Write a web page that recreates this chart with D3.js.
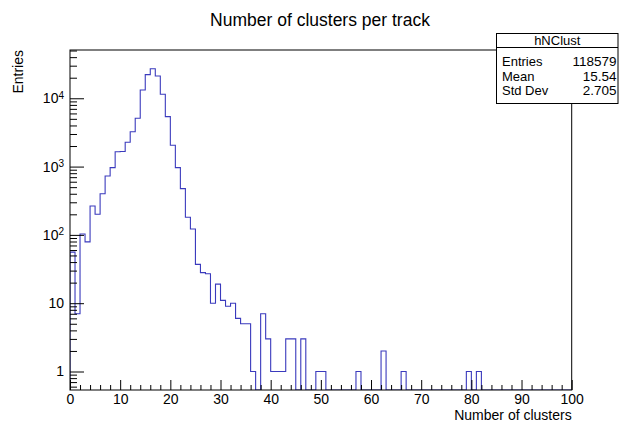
<!DOCTYPE html>
<html><head><meta charset="utf-8">
<script src="https://cdn.jsdelivr.net/npm/d3@7"></script>
<style>body{margin:0;background:#fff} svg{display:block} text{font-family:"Liberation Sans",Arial,Helvetica,sans-serif;fill:#000}</style>
</head><body><svg id="c" width="619" height="424"></svg>
<script>
const title = "Number of clusters per track";
const xTitle = "Number of clusters";
const yTitle = "Entries";
const xRange = [0, 100];
const nBins = 100;
const counts = [
  56, 7, 103, 79, 265, 200, 401, 728, 964, 1650,
  1660, 2270, 3240, 5100, 13200, 22200, 27100, 21200, 11450, 5380,
  2050, 964, 475, 181, 122, 37, 28, 27, 10, 19,
  11, 9, 10, 6, 5, 5, 1, 0, 7, 3,
  1, 1, 1, 3, 3, 0, 3, 0, 0, 1,
  1, 0, 0, 0, 0, 0, 0, 1, 0, 0,
  0, 0, 2, 0, 0, 0, 1, 0, 0, 0,
  0, 0, 0, 0, 0, 0, 0, 0, 0, 1,
  0, 1, 0, 0, 0, 0, 0, 0, 0, 0,
  0, 0, 0, 0, 0, 0, 0, 0, 0, 0
];
const xTickValues = [0, 10, 20, 30, 40, 50, 60, 70, 80, 90, 100];
const yTickValues = [1, 10, 100, 1000, 10000];
const statsName = "hNClust";
const statsLabels = ["Entries", "Mean", "Std Dev"];
const statsValues = ["118579", "15.54", "2.705"];

const svg = d3.select("#c");
const L = 70, R = 571.7, T = 50, B = 390;
const x = d3.scaleLinear().domain(xRange).range([L, R]);
const y = d3.scaleLog().domain([0.536, 50900]).range([B, T]);
const lineColor = "#3a3abd";

svg.append("rect").attr("width", 619).attr("height", 424).attr("fill", "#fff");

// title
svg.append("text").attr("x", 320).attr("y", 26).attr("text-anchor", "middle")
  .attr("font-size", 17.5).text(title);

// clip
svg.append("clipPath").attr("id", "clip").append("rect")
  .attr("x", L).attr("y", T).attr("width", R - L).attr("height", B - T);

// histogram
const bw = (xRange[1] - xRange[0]) / nBins;
const pts = [[x(xRange[0]), B]];
counts.forEach((c, i) => {
  const yy = c > 0 ? y(c) : B;
  pts.push([x(xRange[0] + i * bw), yy], [x(xRange[0] + (i + 1) * bw), yy]);
});
pts.push([x(xRange[1]), B]);
svg.append("path").attr("clip-path", "url(#clip)")
  .attr("d", d3.line()(pts)).attr("fill", "none")
  .attr("stroke", lineColor).attr("stroke-width", 1.1);

// x axis
const xMinor = [];
for (let v = xRange[0]; v <= xRange[1]; v += 2) if (v % 10 !== 0) xMinor.push(v);
const gxm = svg.append("g").attr("transform", `translate(0,${B})`)
  .call(d3.axisBottom(x).tickValues(xMinor).tickSize(-5).tickFormat(""));
const gx = svg.append("g").attr("transform", `translate(0,${B})`)
  .call(d3.axisBottom(x).tickValues(xTickValues).tickSize(-10).tickPadding(4).tickFormat(d3.format("d")));
[gx, gxm].forEach(g => { g.select(".domain").remove(); g.selectAll("line").attr("stroke", "#000"); });
gx.selectAll("text").attr("font-size", 14).attr("font-family", '"Liberation Sans",Arial,sans-serif').attr("fill", "#000");

// y axis
const yMinor = [];
[0.1, 1, 10, 100, 1000, 10000].forEach(d => {
  for (let k = 2; k <= 9; k++) { const v = k * d; if (v > 0.536 && v < 50900) yMinor.push(v); }
});
const gym = svg.append("g").attr("transform", `translate(${L},0)`)
  .call(d3.axisLeft(y).tickValues(yMinor).tickSize(-7).tickFormat(""));
const gy = svg.append("g").attr("transform", `translate(${L},0)`)
  .call(d3.axisLeft(y).tickValues(yTickValues).tickSize(-14).tickPadding(6).tickFormat(d => String(d)));
[gy, gym].forEach(g => { g.select(".domain").remove(); g.selectAll("line").attr("stroke", "#000"); });
gy.selectAll("text").attr("font-size", 14).attr("font-family", '"Liberation Sans",Arial,sans-serif').attr("fill", "#000")
  .each(function(d) {
    if (d >= 100) {
      const t = d3.select(this).text("");
      t.append("tspan").text("10");
      t.append("tspan").attr("dy", "-0.45em").attr("font-size", 10).text(String(Math.round(Math.log10(d))));
    }
  });

// frame
svg.append("rect").attr("x", L).attr("y", T).attr("width", R - L).attr("height", B - T)
  .attr("fill", "none").attr("stroke", "#000").attr("stroke-width", 1);

// axis titles
svg.append("text").attr("x", R).attr("y", 420).attr("text-anchor", "end")
  .attr("font-size", 14).text(xTitle);
svg.append("text").attr("transform", `translate(23,50) rotate(-90)`).attr("text-anchor", "end")
  .attr("font-size", 14).text(yTitle);

// stats box
const sb = svg.append("g");
const bx = 496.5, by = 33.5, bwid = 121.5, bh = 70;
sb.append("rect").attr("x", bx).attr("y", by).attr("width", bwid).attr("height", bh)
  .attr("fill", "#fff").attr("stroke", "#000");
sb.append("line").attr("x1", bx).attr("x2", bx + bwid).attr("y1", 47.5).attr("y2", 47.5).attr("stroke", "#000");
sb.append("text").attr("x", bx + bwid / 2).attr("y", 45).attr("text-anchor", "middle")
  .attr("font-size", 13).text(statsName);
statsLabels.forEach((lab, i) => {
  const yy = 66 + i * 14.5;
  sb.append("text").attr("x", 502).attr("y", yy).attr("font-size", 13).text(lab);
  sb.append("text").attr("x", 616.5).attr("y", yy).attr("text-anchor", "end").attr("font-size", 13.5).text(statsValues[i]);
});
</script></body></html>
